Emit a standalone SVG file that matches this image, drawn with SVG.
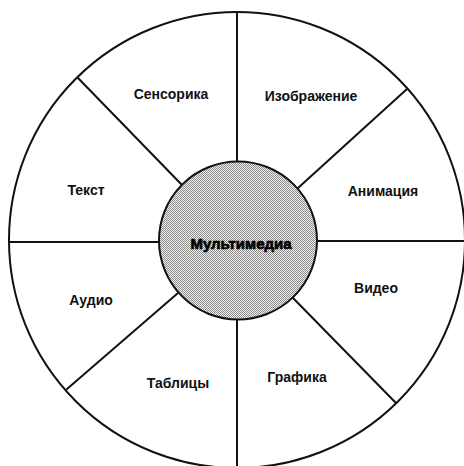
<svg xmlns="http://www.w3.org/2000/svg" width="464" height="466" viewBox="0 0 464 466">
<defs>
<pattern id="stipple" patternUnits="userSpaceOnUse" width="2" height="2">
<rect width="2" height="2" fill="#f2f2f2"/>
<rect x="0" y="0" width="1" height="1" fill="#8a8a8a"/>
<rect x="1" y="1" width="1" height="1" fill="#8a8a8a"/>
</pattern>
</defs>
<style>
.ln{stroke:#111;stroke-width:2;fill:none;stroke-linecap:round}
.lbl{font-family:"Liberation Sans",Arial,sans-serif;font-size:14px;font-weight:bold;fill:#111;text-anchor:middle}
.ctr{font-family:"Liberation Sans",Arial,sans-serif;font-size:15px;font-weight:bold;fill:#000;text-anchor:middle;stroke:#000;stroke-width:0.7}
</style>
<rect width="464" height="466" fill="#fff"/>
<g id="outer">
<circle cx="237" cy="240" r="228" class="ln"/>
</g>
<g id="connectors">
<line x1="237" y1="12" x2="237" y2="163" class="ln"/>
<line x1="237" y1="318" x2="237" y2="468" class="ln"/>
<line x1="9" y1="242" x2="158" y2="242" class="ln"/>
<line x1="318" y1="241" x2="466" y2="241" class="ln"/>
<line x1="78" y1="78" x2="182" y2="185" class="ln"/>
<line x1="407" y1="89" x2="298" y2="188" class="ln"/>
<line x1="293" y1="298" x2="396" y2="403" class="ln"/>
<line x1="178" y1="293" x2="67" y2="389" class="ln"/>
</g>
<g id="center">
<circle cx="238" cy="240.5" r="79" fill="url(#stipple)" stroke="#111" stroke-width="2"/>
<text x="241" y="249" class="ctr">Мультимедиа</text>
</g>
<g id="sensorika"><text x="171" y="99" class="lbl">Сенсорика</text></g>
<g id="izobrazhenie"><text x="311" y="101" class="lbl">Изображение</text></g>
<g id="tekst"><text x="86" y="195" class="lbl">Текст</text></g>
<g id="animatsiya"><text x="383" y="196" class="lbl">Анимация</text></g>
<g id="audio"><text x="91" y="305" class="lbl">Аудио</text></g>
<g id="video"><text x="376" y="293" class="lbl">Видео</text></g>
<g id="tablitsy"><text x="178" y="388" class="lbl">Таблицы</text></g>
<g id="grafika"><text x="297" y="382" class="lbl">Графика</text></g>
</svg>
